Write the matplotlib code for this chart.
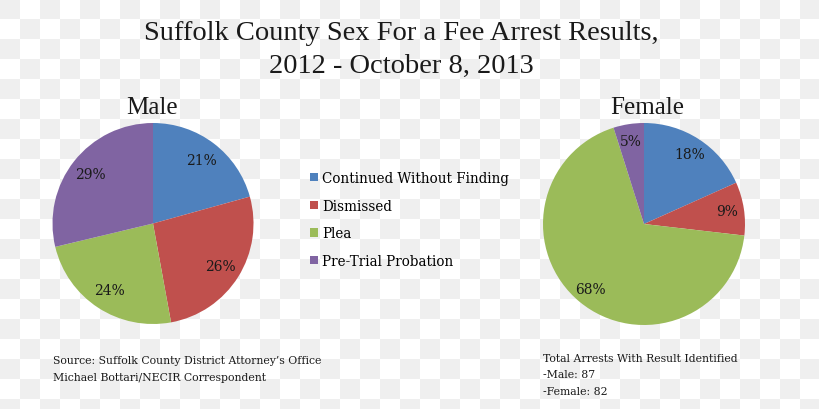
# Suffolk County sex-for-a-fee arrest results: male vs female pies
import numpy as np
import matplotlib
matplotlib.use('Agg')
import matplotlib.pyplot as plt


# Data: arrests with a result identified, by outcome
outcomes = ['Continued Without Finding', 'Dismissed', 'Plea', 'Pre-Trial Probation']
male_counts = [18, 23, 21, 25]      # 87 total
female_counts = [15, 7, 56, 4]      # 82 total
colors = ['#4F81BD', '#C0504D', '#9BBB59', '#8064A2']
source_lines = ["Source: Suffolk County District Attorney\u2019s Office",
                'Michael Bottari/NECIR Correspondent']
total_lines = ['Total Arrests With Result Identified', '-Male: 87', '-Female: 82']

W, H = 820, 410
fig = plt.figure(figsize=(W / 100, H / 100), dpi=100)

# checkerboard background (transparent-png look)
bg = fig.add_axes([0, 0, 1, 1])
cells = (np.add.outer(np.arange(21), np.arange(41)) % 2 == 0)
bg.imshow(cells, cmap=matplotlib.colors.ListedColormap(['#ffffff', '#efefef']),
          extent=(0, 820, 420, 0), interpolation='nearest', aspect='auto')
bg.set_xlim(0, W)
bg.set_ylim(H, 0)
bg.axis('off')

serif_title = 'Liberation Serif'
serif_small = 'DejaVu Serif'
ink = '#1a1a1a'


def pie_axes(cx, cy, r):
    # cx, cy in pixels from top-left, r in pixels
    return fig.add_axes([(cx - r) / W, (H - cy - r) / H, 2 * r / W, 2 * r / H])


def draw_pie(ax, counts, pct_dist):
    wedges, _, autotexts = ax.pie(counts, colors=colors, startangle=90, counterclock=False,
                                  autopct='%.0f%%', pctdistance=pct_dist,
                                  wedgeprops=dict(linewidth=0),
                                  textprops=dict(family=serif_small, fontsize=10, color=ink))
    ax.set_xlim(-1, 1)
    ax.set_ylim(-1, 1)
    ax.set_aspect('equal')
    return wedges


ax_m = pie_axes(153, 224.5, 100.5)
wedges = draw_pie(ax_m, male_counts, 0.79)
ax_f = pie_axes(644, 225, 101)
draw_pie(ax_f, female_counts, 0.83)

# titles
fig.text(401 / W, 1 - 33 / H, 'Suffolk County Sex For a Fee Arrest Results,',
         ha='center', va='center', family=serif_title, fontsize=20.5, color=ink)
fig.text(401 / W, 1 - 66 / H, '2012 - October 8, 2013',
         ha='center', va='center', family=serif_title, fontsize=20.5, color=ink)
fig.text(152 / W, 1 - 108 / H, 'Male', ha='center', va='center',
         family=serif_title, fontsize=18, color=ink)
fig.text(647 / W, 1 - 108 / H, 'Female', ha='center', va='center',
         family=serif_title, fontsize=18, color=ink)

# legend
fig.legend(wedges, outcomes, loc='upper left', bbox_to_anchor=(298 / W, 1 - 160 / H),
           frameon=False, handlelength=0.55, handleheight=0.55, handletextpad=0.35,
           labelspacing=1.0, prop=dict(family=serif_small, size=9.75))

# footnotes
for i, line in enumerate(source_lines):
    fig.text(53 / W, 1 - (361 + 17 * i) / H, line, ha='left', va='center',
             family=serif_small, fontsize=7.8, color=ink)
for i, line in enumerate(total_lines):
    fig.text(543 / W, 1 - (359 + 16.5 * i) / H, line, ha='left', va='center',
             family=serif_small, fontsize=7.8, color=ink)

fig.savefig('out.png', dpi=100)
